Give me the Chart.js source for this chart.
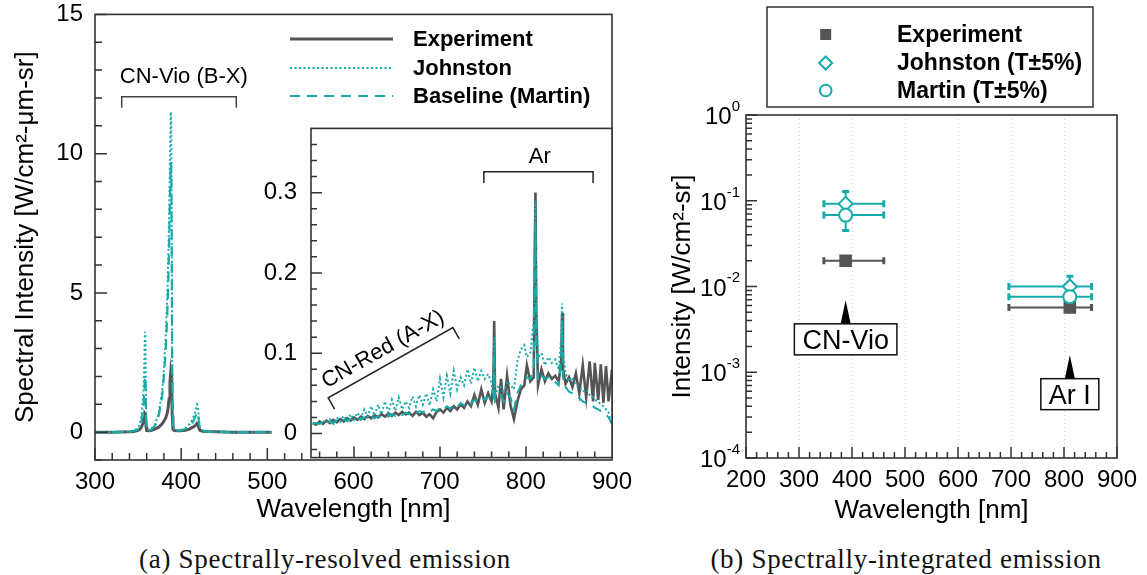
<!DOCTYPE html>
<html>
<head>
<meta charset="utf-8">
<script src="https://cdn.jsdelivr.net/npm/chart.js@4/dist/chart.umd.min.js"></script>
<style>
  body { margin: 0; background: #fff; width: 1147px; height: 575px; position: relative; overflow: hidden; }
  canvas { position: absolute; }
  .cap { position: absolute; top: 543px; line-height: 32px; font-family: "Liberation Serif", "DejaVu Serif", serif; font-size: 27px; letter-spacing: 0.7px; text-align: center; white-space: nowrap; color: #111; }
</style>
</head>
<body>
<canvas id="mainChart" width="650" height="542" style="left:0;top:-12px"></canvas>
<canvas id="insetChart" width="400" height="386" style="left:240px;top:100px"></canvas>
<canvas id="rightChart" width="497" height="540" style="left:650px;top:0"></canvas>
<div class="cap" style="left:0;width:650px">(a) Spectrally-resolved emission</div>
<div class="cap" style="left:660px;width:492px">(b) Spectrally-integrated emission</div>
<script>
// ---- (a) full spectrum, 300-505 nm ----
const mainWl = [300, 320, 340, 345, 350, 352, 354, 356, 357, 358,
  358.6, 359.2, 360, 362, 365, 370, 374, 378, 380, 382,
  384, 385, 386, 387, 388, 388.5, 389, 389.6, 390.5, 392,
  395, 400, 405, 410, 413, 415, 417, 418.5, 419.5, 420.5,
  422, 425, 430, 440, 460, 480, 505];
const mainExp = [0, 0, 0.01, 0.02, 0.06, 0.1, 0.18, 0.35, 0.5, 0.65,
  0.62, 0.2, 0.06, 0.05, 0.06, 0.12, 0.18, 0.3, 0.4, 0.5,
  0.7, 0.9, 1.2, 1.8, 2.2, 2.1, 1.6, 0.6, 0.1, 0.06,
  0.05, 0.05, 0.07, 0.12, 0.17, 0.2, 0.26, 0.32, 0.3, 0.15,
  0.06, 0.03, 0.02, 0.01, 0, 0, 0];
const mainJoh = [0, 0, 0.02, 0.05, 0.15, 0.3, 0.6, 1.3, 2.2, 3.6,
  3.4, 0.8, 0.15, 0.08, 0.1, 0.3, 0.7, 1.5, 2.3, 3.4,
  5.0, 6.2, 7.8, 9.8, 11.5, 11.0, 8.0, 2.5, 0.3, 0.1,
  0.06, 0.08, 0.15, 0.3, 0.45, 0.6, 0.8, 1.0, 0.95, 0.5,
  0.15, 0.06, 0.03, 0.01, 0, 0, 0];
const mainMar = [0, 0, 0.015, 0.04, 0.1, 0.2, 0.4, 0.8, 1.3, 2.0,
  1.9, 0.5, 0.1, 0.06, 0.08, 0.25, 0.6, 1.3, 2.0, 2.9,
  4.3, 5.3, 6.7, 8.3, 9.7, 9.3, 6.8, 2.1, 0.25, 0.08,
  0.05, 0.06, 0.12, 0.22, 0.33, 0.45, 0.6, 0.72, 0.68, 0.35,
  0.1, 0.05, 0.02, 0.01, 0, 0, 0];
const mainXLabels = [300, 400, 500, 600, 700, 800, 900];
const mainYLabels = [0, 5, 10, 15];

// ---- (a) inset, 550-900 nm ----
const insetWl = [552, 556, 560, 564, 568, 572, 576, 580, 584, 588,
  592, 596, 600, 604, 608, 612, 616, 620, 624, 628,
  632, 636, 640, 644, 648, 652, 656, 660, 664, 668,
  672, 676, 680, 684, 688, 692, 696, 700, 704, 708,
  712, 716, 720, 724, 728, 732, 736, 740, 744, 748,
  752, 756, 760, 762, 763, 764, 768, 771, 774, 778,
  782, 786, 790, 794, 798, 801, 805, 809, 810, 811,
  812, 814, 818, 822, 826, 830, 834, 838, 841, 842,
  843, 846, 850, 854, 858, 862, 866, 870, 874, 878,
  880, 884, 887, 890, 893, 896, 900];
const insetExp = [0.013, 0.011, 0.015, 0.012, 0.016, 0.013, 0.017, 0.014, 0.018, 0.015,
  0.019, 0.016, 0.020, 0.017, 0.021, 0.018, 0.022, 0.019, 0.023, 0.020,
  0.024, 0.021, 0.025, 0.022, 0.026, 0.023, 0.027, 0.024, 0.026, 0.022,
  0.027, 0.023, 0.026, 0.021, 0.024, 0.019, 0.027, 0.030, 0.026, 0.032,
  0.028, 0.034, 0.030, 0.036, 0.032, 0.040, 0.034, 0.048, 0.036, 0.055,
  0.038, 0.050, 0.040, 0.060, 0.140, 0.050, 0.032, 0.068, 0.030, 0.072,
  0.035, 0.018, 0.040, 0.055, 0.060, 0.085, 0.065, 0.070, 0.200, 0.300,
  0.150, 0.060, 0.080, 0.065, 0.075, 0.068, 0.072, 0.065, 0.090, 0.150,
  0.080, 0.062, 0.070, 0.058, 0.075, 0.050, 0.085, 0.045, 0.090, 0.040,
  0.088, 0.042, 0.086, 0.038, 0.084, 0.040, 0.080];
const insetJoh = [0.012, 0.014, 0.011, 0.016, 0.013, 0.018, 0.012, 0.020, 0.015, 0.022,
  0.016, 0.024, 0.017, 0.026, 0.019, 0.030, 0.021, 0.034, 0.022, 0.036,
  0.024, 0.040, 0.026, 0.042, 0.028, 0.045, 0.030, 0.040, 0.032, 0.046,
  0.034, 0.048, 0.036, 0.050, 0.035, 0.055, 0.040, 0.068, 0.045, 0.072,
  0.050, 0.078, 0.055, 0.070, 0.060, 0.080, 0.062, 0.082, 0.065, 0.078,
  0.068, 0.074, 0.062, 0.050, 0.120, 0.045, 0.060, 0.058, 0.050, 0.065,
  0.060, 0.055, 0.090, 0.105, 0.110, 0.095, 0.100, 0.140, 0.240, 0.290,
  0.160, 0.095, 0.100, 0.085, 0.095, 0.088, 0.092, 0.080, 0.120, 0.162,
  0.100, 0.075, 0.065, 0.070, 0.060, 0.058, 0.052, 0.055, 0.048, 0.045,
  0.042, 0.040, 0.036, 0.034, 0.030, 0.026, 0.010];
const insetMar = [0.012, 0.013, 0.012, 0.014, 0.012, 0.015, 0.013, 0.016, 0.014, 0.017,
  0.015, 0.018, 0.016, 0.019, 0.017, 0.020, 0.018, 0.021, 0.019, 0.022,
  0.020, 0.023, 0.021, 0.024, 0.022, 0.025, 0.023, 0.026, 0.024, 0.027,
  0.025, 0.028, 0.026, 0.029, 0.027, 0.030, 0.028, 0.032, 0.030, 0.034,
  0.031, 0.036, 0.033, 0.038, 0.035, 0.040, 0.037, 0.042, 0.040, 0.045,
  0.042, 0.046, 0.044, 0.040, 0.100, 0.040, 0.045, 0.048, 0.040, 0.050,
  0.045, 0.030, 0.050, 0.060, 0.065, 0.070, 0.068, 0.080, 0.180, 0.260,
  0.120, 0.065, 0.072, 0.068, 0.070, 0.066, 0.064, 0.060, 0.090, 0.140,
  0.070, 0.058, 0.052, 0.050, 0.046, 0.044, 0.040, 0.038, 0.036, 0.034,
  0.032, 0.030, 0.028, 0.026, 0.024, 0.020, 0.012];
const insetYLabels = [0, 0.1, 0.2, 0.3];

// ---- (b) integrated intensities ----
const bandWl = [388, 811];
const expInt = [0.020, 0.0057];
const johInt = [0.092, 0.0100];
const marInt = [0.068, 0.0076];
const wlLow = [347, 696];
const wlHigh = [460, 852];
const johLow = [0.068, 0.0080];
const johHigh = [0.128, 0.0132];
const marLow = [0.045, 0.0058];
const marHigh = [0.094, 0.0098];
const rightXLabels = [200, 300, 400, 500, 600, 700, 800, 900];
const rightYLabels = [1e-4, 1e-3, 1e-2, 1e-1, 1];
const bandNames = ['CN-Vio', 'Ar I'];

const GRAY = '#555555';
const TEAL = '#17abab';
const INK = '#222222';
const FONT = '"Liberation Sans", Arial, Helvetica, sans-serif';

const toPts = (xs, ys) => xs.map((x, i) => ({ x, y: ys[i] }));
const range = (from, to, step) => {
  const out = [];
  for (let v = from; v <= to + 1e-9; v += step) out.push(+v.toFixed(6));
  return out;
};

function frame(chart) {
  const { ctx, chartArea: a } = chart;
  ctx.save();
  ctx.strokeStyle = '#333';
  ctx.lineWidth = 1.6;
  ctx.strokeRect(a.left, a.top, a.right - a.left, a.bottom - a.top);
  ctx.restore();
}

// inward ticks on the left and bottom edges
function ticks(chart, axis, values, len) {
  const { ctx, chartArea: a } = chart;
  const s = chart.scales[axis];
  ctx.save();
  ctx.strokeStyle = '#333';
  ctx.lineWidth = 1.5;
  ctx.beginPath();
  values.forEach((v) => {
    const p = s.getPixelForValue(v);
    if (axis === 'x') { ctx.moveTo(p, a.bottom); ctx.lineTo(p, a.bottom - len); }
    else { ctx.moveTo(a.left, p); ctx.lineTo(a.left + len, p); }
  });
  ctx.stroke();
  ctx.restore();
}

function text(ctx, str, x, capY, size, weight, align) {
  ctx.font = `${weight || 'normal'} ${size}px ${FONT}`;
  ctx.textAlign = align || 'left';
  ctx.textBaseline = 'alphabetic';
  ctx.fillStyle = '#000';
  ctx.fillText(str, x, capY + 0.358 * size);
}

function hBracket(ctx, x1, x2, y, legY) {
  ctx.beginPath();
  ctx.moveTo(x1, legY); ctx.lineTo(x1, y); ctx.lineTo(x2, y); ctx.lineTo(x2, legY);
  ctx.stroke();
}

const lineSet = (label, xs, ys, color, width, dash, order) => ({
  label, data: toPts(xs, ys), showLine: true, borderColor: color, borderWidth: width,
  borderDash: dash, pointRadius: 0, order
});

// ---------- panel (a) main ----------
// y tick labels reserve ~26px above and below the plot, so the canvas starts above the page
new Chart(document.getElementById('mainChart'), {
  type: 'scatter',
  data: {
    datasets: [
      lineSet('Experiment', mainWl, mainExp, GRAY, 3, [], 2),
      lineSet('Johnston', mainWl, mainJoh, TEAL, 2, [2, 2.5], 0),
      lineSet('Baseline (Martin)', mainWl, mainMar, TEAL, 2.2, [10, 7], 1)
    ]
  },
  options: {
    responsive: false,
    animation: false,
    layout: { padding: { top: 0, right: 38, left: 0, bottom: 0 } },
    plugins: { legend: { display: false }, tooltip: { enabled: false } },
    scales: {
      x: {
        type: 'linear', min: 300, max: 900,
        afterBuildTicks: (s) => { s.ticks = mainXLabels.map((v) => ({ value: v })); },
        afterFit: (s) => { s.height = 70; },
        ticks: { font: { family: FONT, size: 24 }, color: '#000', padding: 8, maxRotation: 0, autoSkip: false },
        grid: { display: false, drawTicks: false },
        border: { display: false },
        title: { display: true, text: 'Wavelength [nm]', color: '#000', font: { family: FONT, size: 26 }, padding: { top: 0, bottom: 5 } }
      },
      y: {
        min: -1, max: 15,
        afterBuildTicks: (s) => { s.ticks = mainYLabels.map((v) => ({ value: v })); },
        afterFit: (s) => { s.width = 95; },
        ticks: { font: { family: FONT, size: 24 }, color: '#000', padding: 12 },
        grid: { display: false, drawTicks: false },
        border: { display: false },
        title: { display: true, text: 'Spectral Intensity [W/cm²-μm-sr]', color: '#000', font: { family: FONT, size: 26 }, padding: { top: 10, bottom: 0 } }
      }
    }
  },
  plugins: [{
    id: 'mainDecor',
    afterDraw(chart) {
      const { ctx } = chart;
      const x = chart.scales.x, y = chart.scales.y;
      frame(chart);
      ticks(chart, 'y', mainYLabels, 12);
      ticks(chart, 'y', range(-1, 14, 1).filter((v) => v % 5 !== 0), 7);
      ticks(chart, 'x', [300, 400, 500], 12);
      ticks(chart, 'x', range(320, 540, 20).filter((v) => v % 100 !== 0), 7);

      // legend (canvas sits 12px above the page)
      const rows = [51, 80, 108];
      chart.data.datasets.forEach((ds, i) => {
        ctx.save();
        ctx.strokeStyle = ds.borderColor;
        ctx.lineWidth = ds.borderWidth;
        ctx.setLineDash(ds.borderDash);
        ctx.beginPath();
        ctx.moveTo(290, rows[i]); ctx.lineTo(393, rows[i]);
        ctx.stroke();
        ctx.restore();
        text(ctx, ds.label, 413, rows[i] - 0.5, 22, 'bold');
      });

      // CN violet band bracket
      ctx.save();
      ctx.strokeStyle = '#444';
      ctx.lineWidth = 1.5;
      hBracket(ctx, x.getPixelForValue(331), x.getPixelForValue(464), y.getPixelForValue(12.04), y.getPixelForValue(11.65));
      ctx.restore();
      text(ctx, 'CN-Vio (B-X)', x.getPixelForValue(403), y.getPixelForValue(12.83), 22, 'normal', 'center');
    }
  }]
});

// ---------- panel (a) inset ----------
new Chart(document.getElementById('insetChart'), {
  type: 'scatter',
  data: {
    datasets: [
      lineSet('Experiment', insetWl, insetExp, GRAY, 2.6, [], 2),
      lineSet('Johnston', insetWl, insetJoh, TEAL, 2, [2, 2.5], 0),
      lineSet('Baseline (Martin)', insetWl, insetMar, TEAL, 2, [10, 7], 1)
    ]
  },
  options: {
    responsive: false,
    animation: false,
    layout: { padding: { top: 0, right: 28, left: 0, bottom: 0 } },
    plugins: { legend: { display: false }, tooltip: { enabled: false } },
    scales: {
      x: { type: 'linear', min: 550, max: 900, display: false },
      y: {
        min: -0.03, max: 0.38,
        afterBuildTicks: (s) => { s.ticks = insetYLabels.map((v) => ({ value: v })); },
        afterFit: (s) => { s.width = 71; },
        ticks: { font: { family: FONT, size: 24 }, color: '#000', padding: 14, callback: (v) => (v === 0 ? '0' : v.toFixed(1)) },
        grid: { display: false, drawTicks: false },
        border: { display: false }
      }
    }
  },
  plugins: [{
    id: 'insetDecor',
    beforeDraw(chart) {
      const { ctx, chartArea: a } = chart;
      ctx.save();
      ctx.fillStyle = '#fff';
      ctx.fillRect(a.left, a.top, a.right - a.left, a.bottom - a.top);
      ctx.restore();
    },
    afterDraw(chart) {
      const { ctx } = chart;
      const x = chart.scales.x, y = chart.scales.y;
      frame(chart);
      ticks(chart, 'y', insetYLabels, 11);
      ticks(chart, 'y', range(-0.02, 0.36, 0.02).filter((v) => Math.abs(v * 10 - Math.round(v * 10)) > 1e-6), 6);
      ticks(chart, 'x', [600, 700, 800], 11);
      ticks(chart, 'x', range(560, 880, 20).filter((v) => v % 100 !== 0), 6);

      ctx.save();
      ctx.strokeStyle = INK;
      ctx.lineWidth = 1.5;
      // Ar lines bracket
      hBracket(ctx, x.getPixelForValue(751), x.getPixelForValue(878), y.getPixelForValue(0.326), y.getPixelForValue(0.312));
      // CN red band bracket (slanted)
      const p1 = { x: x.getPixelForValue(570), y: y.getPixelForValue(0.0444) };
      const p2 = { x: x.getPixelForValue(715), y: y.getPixelForValue(0.132) };
      const len = Math.hypot(p2.x - p1.x, p2.y - p1.y);
      const d = { x: (p2.x - p1.x) / len, y: (p2.y - p1.y) / len };
      const n = { x: -d.y, y: d.x };
      ctx.beginPath();
      ctx.moveTo(p1.x + n.x * 13, p1.y + n.y * 13);
      ctx.lineTo(p1.x, p1.y);
      ctx.lineTo(p2.x, p2.y);
      ctx.lineTo(p2.x + n.x * 13, p2.y + n.y * 13);
      ctx.stroke();
      ctx.restore();

      text(ctx, 'Ar', x.getPixelForValue(816), y.getPixelForValue(0.347), 22, 'normal', 'center');

      ctx.save();
      const mx = (p1.x + p2.x) / 2 - n.x * 17, my = (p1.y + p2.y) / 2 - n.y * 17;
      ctx.translate(mx, my);
      ctx.rotate(Math.atan2(d.y, d.x));
      text(ctx, 'CN-Red (A-X)', 0, 0, 22, 'normal', 'center');
      ctx.restore();
    }
  }]
});

// ---------- panel (b) ----------
const markerSet = (label, ys, style, radius, fill, order) => ({
  label, data: toPts(bandWl, ys), pointStyle: style, pointRadius: radius,
  pointBackgroundColor: fill, pointBorderColor: label === 'Experiment' ? GRAY : TEAL,
  pointBorderWidth: 2, showLine: false, order
});

const rightNotes = [
  { x: 388, boxY: 0.00242, tipY: 0.0069 },
  { x: 811, boxY: 0.000555, tipY: 0.00159 }
];

new Chart(document.getElementById('rightChart'), {
  type: 'scatter',
  data: {
    datasets: [
      markerSet('Experiment', expInt, 'rect', 7.5, GRAY, 2),
      markerSet('Johnston (T±5%)', johInt, 'rectRot', 7, '#fff', 1),
      markerSet('Martin (T±5%)', marInt, 'circle', 6.5, '#fff', 0)
    ]
  },
  options: {
    responsive: false,
    animation: false,
    layout: { padding: { top: 115, right: 30, left: 0, bottom: 0 } },
    plugins: { legend: { display: false }, tooltip: { enabled: false } },
    scales: {
      x: {
        type: 'linear', min: 200, max: 900,
        afterBuildTicks: (s) => { s.ticks = rightXLabels.map((v) => ({ value: v })); },
        afterFit: (s) => { s.height = 82; },
        ticks: { font: { family: FONT, size: 24 }, color: '#000', padding: 8, maxRotation: 0, autoSkip: false },
        grid: { display: true, color: '#d4d4d4', lineWidth: 1, drawTicks: false },
        border: { display: false, dash: [1, 3] },
        title: { display: true, text: 'Wavelength [nm]', color: '#000', font: { family: FONT, size: 26 }, padding: { top: 0, bottom: 14 } }
      },
      y: {
        type: 'logarithmic', min: 1e-4, max: 1,
        afterBuildTicks: (s) => { s.ticks = rightYLabels.map((v) => ({ value: v })); },
        afterFit: (s) => { s.width = 96; },
        ticks: { display: false },
        grid: { display: false, drawTicks: false },
        border: { display: false },
        title: { display: true, text: 'Intensity [W/cm²-sr]', color: '#000', font: { family: FONT, size: 26 }, padding: { top: 17, bottom: 0 } }
      }
    }
  },
  plugins: [{
    id: 'errorBars',
    beforeDatasetsDraw(chart) {
      const { ctx } = chart;
      const x = chart.scales.x, y = chart.scales.y;
      const groups = [
        { vals: expInt, color: GRAY },
        { vals: johInt, lo: johLow, hi: johHigh, color: TEAL },
        { vals: marInt, lo: marLow, hi: marHigh, color: TEAL }
      ];
      ctx.save();
      groups.forEach((g) => {
        ctx.strokeStyle = g.color;
        g.vals.forEach((v, i) => {
          const py = y.getPixelForValue(v), px = x.getPixelForValue(bandWl[i]);
          const x1 = x.getPixelForValue(wlLow[i]), x2 = x.getPixelForValue(wlHigh[i]);
          ctx.lineWidth = 2;
          ctx.beginPath();
          ctx.moveTo(x1, py); ctx.lineTo(x2, py);
          if (g.lo) { ctx.moveTo(px, y.getPixelForValue(g.lo[i])); ctx.lineTo(px, y.getPixelForValue(g.hi[i])); }
          ctx.stroke();
          ctx.lineWidth = 3;
          ctx.beginPath();
          ctx.moveTo(x1, py - 3.5); ctx.lineTo(x1, py + 3.5);
          ctx.moveTo(x2, py - 3.5); ctx.lineTo(x2, py + 3.5);
          if (g.lo) {
            [g.lo[i], g.hi[i]].forEach((e) => {
              const ey = y.getPixelForValue(e);
              ctx.moveTo(px - 3.5, ey); ctx.lineTo(px + 3.5, ey);
            });
          }
          ctx.stroke();
        });
      });
      ctx.restore();
    },
    afterDraw(chart) {
      const { ctx, chartArea: a } = chart;
      const x = chart.scales.x, y = chart.scales.y;
      frame(chart);
      ticks(chart, 'y', rightYLabels, 11);
      const minor = [];
      rightYLabels.slice(0, -1).forEach((d) => { for (let k = 2; k <= 9; k++) minor.push(k * d); });
      ticks(chart, 'y', minor, 6);
      ticks(chart, 'x', rightXLabels, 11);
      ticks(chart, 'x', range(220, 880, 20).filter((v) => v % 100 !== 0), 6);

      // decade labels with raised exponents
      rightYLabels.forEach((v) => {
        const py = y.getPixelForValue(v);
        const ex = String(Math.round(Math.log10(v)));
        ctx.font = `15px ${FONT}`;
        const ew = ctx.measureText(ex).width;
        text(ctx, ex, a.left - 6, py - 9.5, 15, 'normal', 'right');
        text(ctx, '10', a.left - 6 - ew, py + 0.5, 24, 'normal', 'right');
      });

      // band labels with arrows
      rightNotes.forEach((nt, i) => {
        const px = x.getPixelForValue(nt.x);
        const by = y.getPixelForValue(nt.boxY);
        ctx.font = `27px ${FONT}`;
        const w = ctx.measureText(bandNames[i]).width + 16, h = 31;
        const top = by - h / 2;
        ctx.save();
        ctx.fillStyle = '#000';
        ctx.beginPath();
        ctx.moveTo(px, y.getPixelForValue(nt.tipY));
        ctx.lineTo(px + 5, top);
        ctx.lineTo(px - 5, top);
        ctx.closePath();
        ctx.fill();
        ctx.fillStyle = '#fff';
        ctx.fillRect(px - w / 2, top, w, h);
        ctx.strokeStyle = '#111';
        ctx.lineWidth = 1.5;
        ctx.strokeRect(px - w / 2, top, w, h);
        ctx.restore();
        text(ctx, bandNames[i], px, by, 27, 'normal', 'center');
      });

      // legend box
      ctx.save();
      ctx.strokeStyle = '#333';
      ctx.lineWidth = 1.5;
      ctx.strokeRect(117, 7, 326, 100);
      const rows = [34.5, 63, 90.5];
      const mx = 175.7;
      ctx.lineWidth = 2;
      ctx.strokeStyle = TEAL;
      ctx.fillStyle = GRAY;
      ctx.fillRect(mx - 5.5, rows[0] - 5.5, 11, 11);
      ctx.beginPath();
      ctx.moveTo(mx, rows[1] - 6.5); ctx.lineTo(mx + 6.5, rows[1]); ctx.lineTo(mx, rows[1] + 6.5); ctx.lineTo(mx - 6.5, rows[1]);
      ctx.closePath();
      ctx.stroke();
      ctx.beginPath();
      ctx.arc(mx, rows[2], 5.8, 0, Math.PI * 2);
      ctx.stroke();
      ctx.restore();
      chart.data.datasets.forEach((ds, i) => text(ctx, ds.label, 247, rows[i] - 1, 23, 'bold'));
    }
  }]
});
</script>
</body>
</html>
